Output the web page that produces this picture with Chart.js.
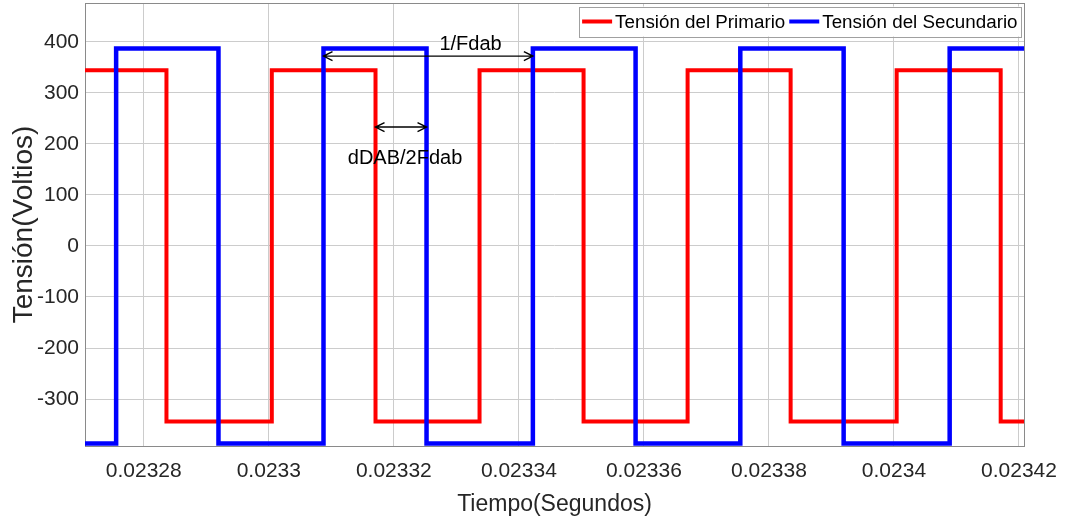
<!DOCTYPE html>
<html>
<head>
<meta charset="utf-8">
<script src="https://cdn.jsdelivr.net/npm/chart.js@4.4.1/dist/chart.umd.min.js"></script>
<style>
  html, body { margin: 0; padding: 0; background: #fff; }
  #wrap { width: 1065px; height: 524px; }
</style>
</head>
<body>
<div id="wrap"><canvas id="chart" width="1065" height="524"></canvas></div>
<script>
// switching instants (s) and the level reached after each one (V)
const redStart = 344;
const redTimes = [0.02328363, 0.02330048, 0.02331707, 0.02333371, 0.02335035, 0.02336699, 0.02338347, 0.02340043, 0.02341707];
const redLevels = [-344, 344, -344, 344, -344, 344, -344, 344, -344];

const blueStart = -387;
const blueTimes = [0.02327558, 0.02329195, 0.02330875, 0.02332523, 0.02334224, 0.02335867, 0.02337542, 0.02339195, 0.02340891];
const blueLevels = [387, -387, 387, -387, 387, -387, 387, -387, 387];

const seriesNames = ['Tensión del Primario', 'Tensión del Secundario'];
const seriesColors = ['#ff0000', '#0000ff'];

// axis limits and ticks
const xMin = 0.0232706, xMax = 0.0234208;
const yMin = -392, yMax = 476;
const xTicks = [0.02328, 0.0233, 0.02332, 0.02334, 0.02336, 0.02338, 0.0234, 0.02342];
const xTickLabels = ['0.02328', '0.0233', '0.02332', '0.02334', '0.02336', '0.02338', '0.0234', '0.02342'];
const yTicks = [-300, -200, -100, 0, 100, 200, 300, 400];

// double arrows with their labels
const arrowLabels = ['1/Fdab', 'dDAB/2Fdab'];
const arrowFrom = [blueTimes[2], redTimes[2]];
const arrowTo = [blueTimes[4], blueTimes[3]];
const arrowLevel = [372, 233];
const labelX = [0.02333227, 0.02332179];
const labelY = [383, 160];

function stepPoints(start, times, levels) {
  const pts = [{ x: xMin, y: start }];
  times.forEach((t, i) => pts.push({ x: t, y: levels[i] }));
  pts.push({ x: xMax, y: levels[levels.length - 1] });
  return pts;
}

const FONT = "'Liberation Sans', Arial, Helvetica, sans-serif";
Chart.defaults.font.family = FONT;
Chart.defaults.color = '#262626';

const boxPlugin = {
  id: 'box',
  beforeDatasetsDraw(chart) {
    const { ctx, chartArea: a } = chart;
    ctx.save();
    ctx.strokeStyle = '#8a8a8a';
    ctx.lineWidth = 1;
    ctx.strokeRect(Math.round(a.left) + 0.5, Math.round(a.top) + 0.5,
      Math.round(a.right - a.left), Math.round(a.bottom - a.top));
    ctx.restore();
  }
};

const arrowPlugin = {
  id: 'arrows',
  afterDatasetsDraw(chart) {
    const { ctx } = chart;
    const xs = chart.scales.x, ys = chart.scales.y;
    ctx.save();
    ctx.strokeStyle = '#000';
    ctx.fillStyle = '#000';
    ctx.lineWidth = 1.4;
    arrowLabels.forEach((txt, i) => {
      const x1 = xs.getPixelForValue(arrowFrom[i]);
      const x2 = xs.getPixelForValue(arrowTo[i]);
      const y = ys.getPixelForValue(arrowLevel[i]);
      ctx.beginPath();
      ctx.moveTo(x1, y); ctx.lineTo(x2, y);
      ctx.moveTo(x1 + 9, y - 4.5); ctx.lineTo(x1, y); ctx.lineTo(x1 + 9, y + 4.5);
      ctx.moveTo(x2 - 9, y - 4.5); ctx.lineTo(x2, y); ctx.lineTo(x2 - 9, y + 4.5);
      ctx.stroke();
      ctx.font = '20px ' + FONT;
      ctx.textAlign = 'center';
      ctx.textBaseline = 'alphabetic';
      ctx.fillText(txt, xs.getPixelForValue(labelX[i]), ys.getPixelForValue(labelY[i]));
    });
    ctx.restore();
  }
};

const legendPlugin = {
  id: 'boxLegend',
  afterDraw(chart) {
    const { ctx, chartArea: a } = chart;
    ctx.save();
    ctx.font = '18.8px ' + FONT;
    const sample = 30, gapA = 3, gapB = 4;
    const widths = seriesNames.map(n => ctx.measureText(n).width);
    let w = 3;
    widths.forEach(tw => { w += sample + gapA + tw + gapB; });
    const h = 30;
    const right = a.right - 2.5;
    const left = right - w;
    const top = a.top + 3.5;
    ctx.fillStyle = '#fff';
    ctx.fillRect(left, top, w, h);
    ctx.strokeStyle = '#a0a0a0';
    ctx.lineWidth = 1;
    ctx.strokeRect(Math.round(left) + 0.5, Math.round(top) + 0.5, Math.round(w), h);
    let x = left + 3;
    const cy = top + h / 2;
    seriesNames.forEach((n, i) => {
      ctx.strokeStyle = seriesColors[i];
      ctx.lineWidth = 4;
      ctx.beginPath();
      ctx.moveTo(x, cy); ctx.lineTo(x + sample, cy);
      ctx.stroke();
      x += sample + gapA;
      ctx.fillStyle = '#000';
      ctx.textAlign = 'left';
      ctx.textBaseline = 'middle';
      ctx.fillText(n, x, cy + 1);
      x += widths[i] + gapB;
    });
    ctx.restore();
  }
};

new Chart(document.getElementById('chart'), {
  type: 'line',
  data: {
    datasets: [
      {
        label: seriesNames[0],
        data: stepPoints(redStart, redTimes, redLevels),
        borderColor: seriesColors[0],
        backgroundColor: seriesColors[0],
        borderWidth: 4,
        stepped: 'before',
        pointRadius: 0,
        fill: false,
        order: 1,
      },
      {
        label: seriesNames[1],
        data: stepPoints(blueStart, blueTimes, blueLevels),
        borderColor: seriesColors[1],
        backgroundColor: seriesColors[1],
        borderWidth: 4.5,
        stepped: 'before',
        pointRadius: 0,
        fill: false,
        order: 0,
      },
    ],
  },
  options: {
    responsive: false,
    animation: false,
    devicePixelRatio: 1,
    layout: { padding: { top: 3, right: 41, left: 0, bottom: 0 } },
    plugins: {
      legend: { display: false },
      tooltip: { enabled: false },
    },
    scales: {
      x: {
        type: 'linear',
        min: xMin,
        max: xMax,
        afterBuildTicks: s => { s.ticks = xTicks.map(v => ({ value: v })); },
        afterFit: s => { s.height = 78; s.paddingLeft = 0; s.paddingRight = 0; },
        ticks: {
          autoSkip: false,
          maxRotation: 0,
          padding: 13,
          font: { size: 21 },
          color: '#262626',
          callback: (v, i) => xTickLabels[i],
        },
        grid: { color: '#cccccc', drawTicks: false },
        border: { display: false },
        title: {
          display: true,
          text: 'Tiempo(Segundos)',
          font: { size: 23 },
          color: '#262626',
          padding: { top: 0, bottom: 6 },
        },
      },
      y: {
        type: 'linear',
        min: yMin,
        max: yMax,
        afterBuildTicks: s => { s.ticks = yTicks.map(v => ({ value: v })); },
        afterFit: s => { s.width = 85; s.paddingTop = 0; s.paddingBottom = 0; },
        ticks: {
          padding: 6,
          font: { size: 21 },
          color: '#262626',
          callback: v => String(v),
        },
        grid: { color: '#cccccc', drawTicks: false },
        border: { display: false },
        title: {
          display: true,
          text: 'Tensión(Voltios)',
          font: { size: 28 },
          color: '#262626',
          padding: { top: 7, bottom: 0 },
        },
      },
    },
  },
  plugins: [boxPlugin, arrowPlugin, legendPlugin],
});
</script>
</body>
</html>
